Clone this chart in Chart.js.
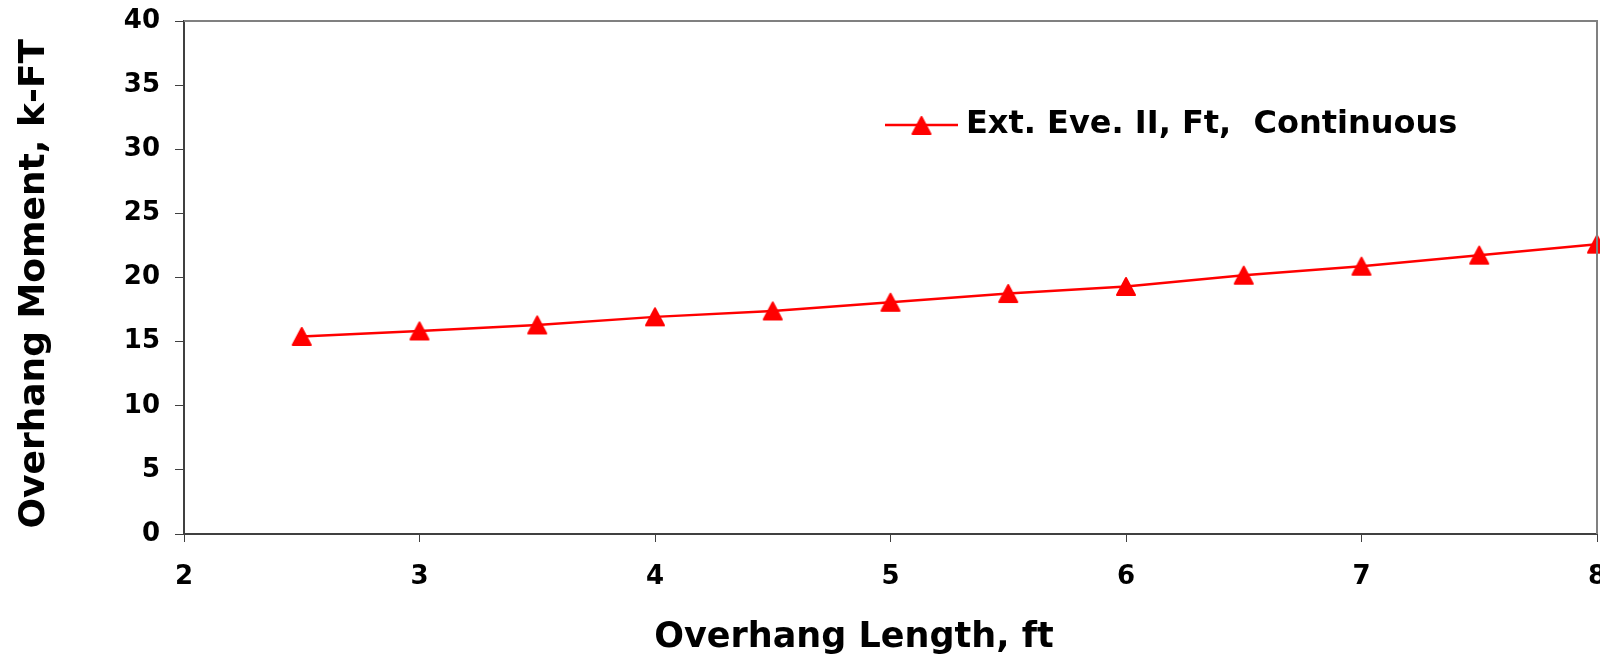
<!DOCTYPE html>
<html>
<head>
<meta charset="utf-8">
<script src="https://cdn.jsdelivr.net/npm/chart.js@4.4.0/dist/chart.umd.min.js"></script>
<style>
html,body{margin:0;padding:0;background:#fff;}
#wrap{width:1600px;height:669px;position:relative;}
</style>
</head>
<body>
<div id="wrap"><canvas id="c" width="1600" height="669"></canvas></div>
<script>
// ---- data ----
const overhangLength = [2.5, 3, 3.5, 4, 4.5, 5, 5.5, 6, 6.5, 7, 7.5, 8];
const overhangMoment = [15.4, 15.83, 16.3, 16.93, 17.39, 18.07, 18.75, 19.3, 20.18, 20.88, 21.74, 22.6];
const seriesLabel = 'Ext. Eve. II, Ft,  Continuous';
const xTickValues = [2, 3, 4, 5, 6, 7, 8];
const yTickValues = [0, 5, 10, 15, 20, 25, 30, 35, 40];
const xTitle = 'Overhang Length, ft';
const yTitle = 'Overhang Moment, k-FT';

const RED = '#FF0000';
const FONT = 'DejaVu Sans';

function triangleMarker() {
  const c = document.createElement('canvas');
  c.width = 22; c.height = 21;
  const g = c.getContext('2d');
  g.fillStyle = RED; g.strokeStyle = RED; g.lineWidth = 2; g.lineJoin = 'round';
  g.beginPath(); g.moveTo(11, 2); g.lineTo(20, 19); g.lineTo(2, 19); g.closePath();
  g.fill(); g.stroke();
  return c;
}
function legendMarker() {
  const c = document.createElement('canvas');
  c.width = 73; c.height = 22;
  const g = c.getContext('2d');
  g.strokeStyle = RED; g.lineWidth = 2.5;
  g.beginPath(); g.moveTo(0, 11); g.lineTo(73, 11); g.stroke();
  g.drawImage(triangleMarker(), 25.5, 1);
  return c;
}

const framePlugin = {
  id: 'frame',
  afterLayout(chart) {
    const lg = chart.legend;
    if (!lg) return;
    const w = lg.width, h = lg.height;
    lg.left = 883; lg.right = 883 + w;
    lg.top = 99; lg.bottom = 99 + h;
  },
  afterDatasetsDraw(chart) {
    const {ctx, chartArea: a} = chart;
    ctx.save();
    ctx.strokeStyle = '#808080';
    ctx.lineWidth = 2;
    ctx.beginPath();
    ctx.moveTo(a.left, a.top);
    ctx.lineTo(a.right, a.top);
    ctx.lineTo(a.right, a.bottom);
    ctx.stroke();
    ctx.restore();
  }
};

new Chart(document.getElementById('c'), {
  type: 'line',
  data: {
    datasets: [{
      label: seriesLabel,
      data: overhangLength.map((x, i) => ({x: x, y: overhangMoment[i]})),
      borderColor: RED,
      backgroundColor: RED,
      borderWidth: 2.5,
      tension: 0,
      pointStyle: triangleMarker(),
      pointRadius: 10,
      clip: false
    }]
  },
  options: {
    responsive: false,
    animation: false,
    devicePixelRatio: 1,
    layout: {autoPadding: false, padding: {top: 21, right: 3, left: 0, bottom: 0}},
    plugins: {
      tooltip: {enabled: false},
      legend: {
        position: 'chartArea',
        fullSize: false,
        align: 'start',
        labels: {
          usePointStyle: true,
          pointStyle: legendMarker(),
          pointStyleWidth: 57,
          padding: 10,
          color: '#000',
          font: {family: FONT, weight: 'bold', size: 32}
        }
      }
    },
    scales: {
      x: {
        type: 'linear',
        min: 2, max: 8,
        afterBuildTicks: s => { s.ticks = xTickValues.map(v => ({value: v})); },
        afterFit: s => { s.height = 135; s.paddingRight = 0; s.paddingLeft = 0; },
        grid: {drawOnChartArea: false, drawTicks: true, tickLength: 8, color: '#404040', lineWidth: 1},
        border: {display: true, color: '#404040', width: 2},
        ticks: {color: '#000', padding: 20, font: {family: FONT, weight: 'bold', size: 26}},
        title: {display: true, text: xTitle + '      ', color: '#000', padding: {top: 0, bottom: 10}, font: {family: FONT, weight: 'bold', size: 35}}
      },
      y: {
        type: 'linear',
        min: 0, max: 40,
        afterBuildTicks: s => { s.ticks = yTickValues.map(v => ({value: v})); },
        afterFit: s => { s.width = 184; s.paddingTop = 0; s.paddingBottom = 0; },
        grid: {drawOnChartArea: false, drawTicks: true, tickLength: 9, color: '#404040', lineWidth: 1},
        border: {display: true, color: '#404040', width: 2},
        ticks: {color: '#000', padding: 15, font: {family: FONT, weight: 'bold', size: 26}},
        title: {display: true, text: yTitle + ' ', color: '#000', padding: {top: 13, bottom: 0}, font: {family: FONT, weight: 'bold', size: 36}}
      }
    }
  },
  plugins: [framePlugin]
});
</script>
</body>
</html>
